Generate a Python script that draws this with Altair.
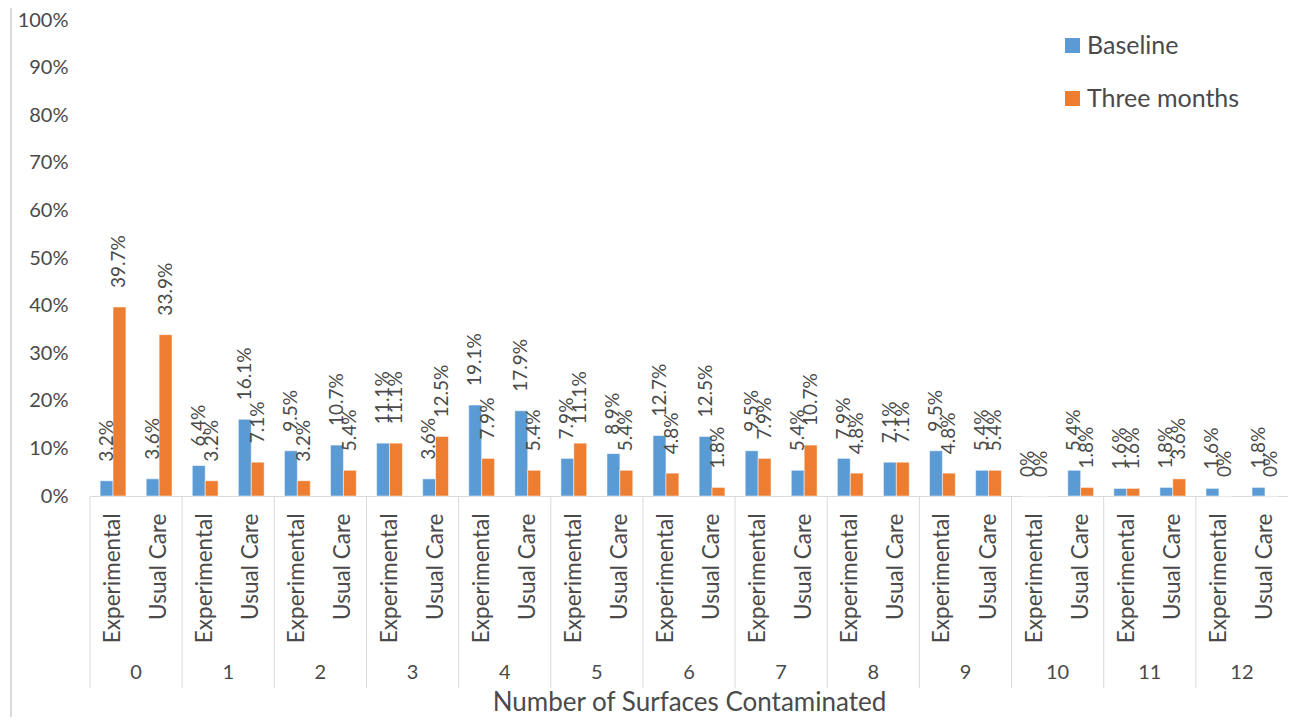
import altair as alt
import pandas as pd

# ---- data ----
groups = list(range(13))
arms = ["Experimental", "Usual Care"]
series = ["Baseline", "Three months"]
baseline_exp = [3.2, 6.4, 9.5, 11.1, 19.1, 7.9, 12.7, 9.5, 7.9, 9.5, 0, 1.6, 1.6]
three_exp = [39.7, 3.2, 3.2, 11.1, 7.9, 11.1, 4.8, 7.9, 4.8, 4.8, 0, 1.6, 0]
baseline_uc = [3.6, 16.1, 10.7, 3.6, 17.9, 8.9, 12.5, 5.4, 7.1, 5.4, 5.4, 1.8, 1.8]
three_uc = [33.9, 7.1, 5.4, 12.5, 5.4, 5.4, 1.8, 10.7, 7.1, 5.4, 1.8, 3.6, 0]
y_ticks = list(range(0, 101, 10))

rows = []
for i, g in enumerate(groups):
    for arm, b, t in [("Experimental", baseline_exp[i], three_exp[i]),
                      ("Usual Care", baseline_uc[i], three_uc[i])]:
        rows.append({"g": g, "arm": arm, "key": f"{g}|{arm}", "series": series[0], "v": b})
        rows.append({"g": g, "arm": arm, "key": f"{g}|{arm}", "series": series[1], "v": t})
df = pd.DataFrame(rows)
keys = [f"{g}|{a}" for g in groups for a in arms]
gdf = pd.DataFrame({"g": groups})

W, H = 1198, 476
FONT = "Lato"
TXT = "#4a4a4a"
GRID = "#d9d9d9"

x_band = alt.X(
    "key:N", sort=keys,
    scale=alt.Scale(paddingInner=0.44, paddingOuter=0.22),
    axis=alt.Axis(
        title="Number of Surfaces Contaminated",
        labelExpr="split(datum.value, '|')[1]",
        labelAngle=-90, labelAlign="right", labelBaseline="middle",
        labelPadding=17, ticks=False, domainColor=GRID, domainWidth=1,
        labelFontSize=22.5, labelColor=TXT, labelOverlap=False, labelBound=False,
        titleFontSize=26, titleColor=TXT, titleFontWeight="normal", titlePadding=47,
        grid=False,
    ),
)
y_scale = alt.Scale(domain=[0, 100], nice=False)
y_enc = alt.Y(
    "v:Q", scale=y_scale,
    axis=alt.Axis(values=y_ticks, labelExpr="datum.value + '%'", grid=False,
                  domain=False, ticks=False, labelPadding=22, labelFontSize=20,
                  labelColor=TXT, title=None),
)
xoff = alt.XOffset("series:N", sort=series)

base = alt.Chart(df)
bars = base.mark_bar(stroke="white", strokeWidth=0.5).encode(
    x=x_band, y=y_enc, xOffset=xoff,
    color=alt.Color(
        "series:N", sort=series,
        scale=alt.Scale(domain=series, range=["#5B9BD5", "#ED7D31"]),
        legend=alt.Legend(title=None, orient="none", legendX=970, legendY=13,
                          symbolType="square", symbolSize=225, symbolStrokeWidth=0,
                          labelFontSize=25, labelColor=TXT, rowPadding=27,
                          padding=0, labelOffset=2),
    ),
)
labels = base.mark_text(angle=270, align="left", baseline="middle", dx=19,
                        fontSize=19, color=TXT).transform_calculate(
    lab="datum.v == 0 ? '0%' : format(datum.v, '.1f') + '%'"
).encode(x=x_band, y=y_enc, xOffset=xoff, text="lab:N")

gx = alt.Scale(paddingInner=0, paddingOuter=0)
seps = alt.Chart(gdf).mark_rule(color=GRID, strokeWidth=1).encode(
    x=alt.X("g:O", bandPosition=0, scale=gx, axis=None),
    y=alt.value(H), y2=alt.value(668),
)
nums = alt.Chart(gdf).mark_text(fontSize=20, color=TXT, baseline="middle").encode(
    x=alt.X("g:O", scale=gx, axis=None), y=alt.value(653), text="g:O",
)
border = alt.Chart(gdf).mark_rule(color=GRID, strokeWidth=1).encode(
    x=alt.value(-79), y=alt.value(-12), y2=alt.value(700),
)

chart = alt.layer(
    alt.layer(bars, labels),
    alt.layer(seps, nums, border),
).resolve_scale(x="independent").properties(
    width=W, height=H,
    autosize="none",
    padding={"left": 82, "top": 12, "right": 0, "bottom": 221},
).configure(font=FONT).configure_view(stroke=None)

chart.save("out.html", embed_options={"renderer": "svg", "actions": False})
